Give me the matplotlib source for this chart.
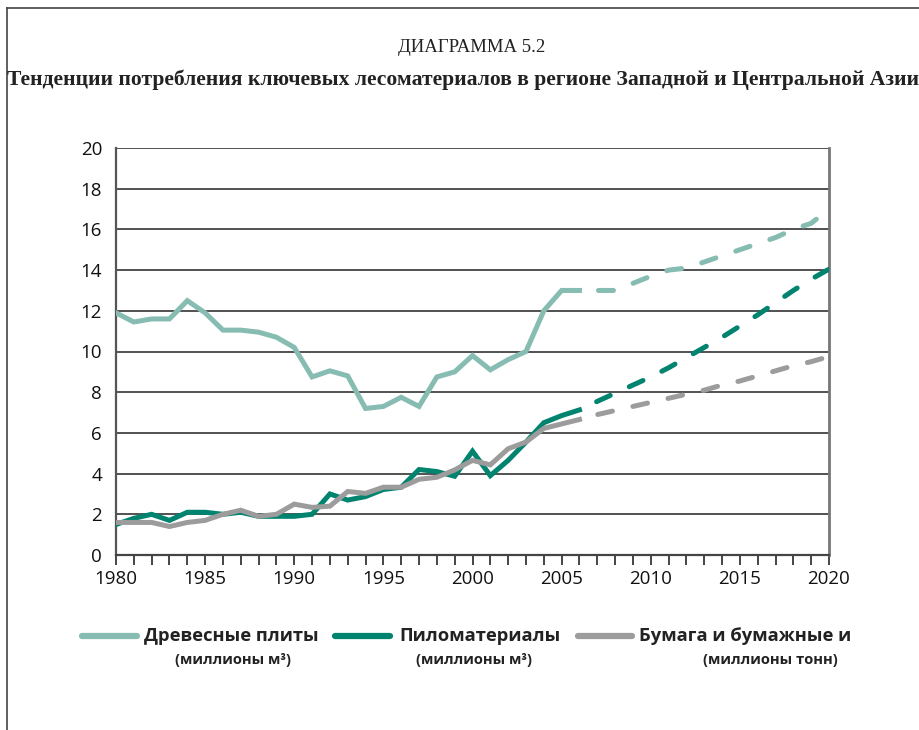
import matplotlib
matplotlib.use("Agg")
import matplotlib.pyplot as plt
from matplotlib.lines import Line2D

# Historical data, 1980-2006
years_hist = list(range(1980, 2007))
panels_hist = [11.9, 11.45, 11.6, 11.6, 12.5, 11.9, 11.05, 11.05, 10.95, 10.7,
               10.2, 8.75, 9.05, 8.8, 7.2, 7.3, 7.75, 7.3, 8.75, 9.0,
               9.8, 9.1, 9.6, 10.0, 12.0, 13.0, 13.0]
sawn_hist = [1.5, 1.8, 2.0, 1.7, 2.1, 2.1, 2.0, 2.1, 1.9, 1.9,
             1.9, 2.0, 3.0, 2.7, 2.87, 3.22, 3.33, 4.2, 4.1, 3.87,
             5.1, 3.9, 4.65, 5.55, 6.5, 6.85, 7.13]
paper_hist = [1.6, 1.6, 1.6, 1.4, 1.6, 1.7, 2.0, 2.2, 1.9, 2.0,
              2.5, 2.34, 2.4, 3.12, 3.03, 3.33, 3.33, 3.72, 3.82, 4.18,
              4.65, 4.43, 5.22, 5.55, 6.22, 6.44, 6.66]

# Projections, 2006-2020
years_proj = list(range(2006, 2021))
panels_proj = [13.0, 13.0, 13.0, 13.35, 13.7, 14.0, 14.1, 14.4, 14.7, 15.0,
               15.3, 15.6, 16.0, 16.3, 17.0]
sawn_proj = [7.13, 7.55, 7.95, 8.35, 8.75, 9.2, 9.7, 10.2, 10.7, 11.25,
             11.8, 12.4, 13.0, 13.55, 14.05]
paper_proj = [6.66, 6.9, 7.1, 7.3, 7.5, 7.7, 7.9, 8.1, 8.35, 8.55,
              8.8, 9.05, 9.3, 9.5, 9.75]

series_names = ["Древесные плиты", "Пиломатериалы", "Бумага и бумажные и"]
series_units = ["(миллионы м³)", "(миллионы м³)", "(миллионы тонн)"]
colors = ["#86bcb1", "#00846f", "#9c9c9c"]

sans = ["Open Sans", "DejaVu Sans"]
serif = ["Liberation Serif", "DejaVu Serif"]

fig = plt.figure(figsize=(9.2, 7.3), dpi=100)
ax = fig.add_axes([116 / 920, 1 - 555 / 730, (829 - 116) / 920, (555 - 148) / 730])

lw = 3.6
hist = [panels_hist, sawn_hist, paper_hist]
proj = [panels_proj, sawn_proj, paper_proj]
for h, p, c in zip(hist, proj, colors):
    ax.plot(years_hist, h, color=c, lw=lw, solid_joinstyle="miter", zorder=3)
    ax.plot(years_proj, p, color=c, lw=lw, ls=(3.4, (3, 4.2)),
            dash_capstyle="round", zorder=3)

ax.set_xlim(1980, 2020)
ax.set_ylim(0, 20)
ax.set_yticks(range(0, 21, 2))
ax.set_xticks(range(1980, 2021, 5))
ax.set_xticks(range(1980, 2021), minor=True)
ax.grid(axis="y", color="#333333", lw=1.2)
ax.set_axisbelow(True)

ax.spines["top"].set_visible(False)
ax.spines["left"].set_color("#555555")
ax.spines["left"].set_linewidth(1.6)
ax.spines["bottom"].set_color("#444444")
ax.spines["bottom"].set_linewidth(1.6)
ax.spines["right"].set_color("#777777")
ax.spines["right"].set_linewidth(2.0)

ax.tick_params(axis="y", length=0, pad=10)
ax.tick_params(axis="x", which="both", direction="out", length=7,
               width=1.4, color="#444444", pad=4)
for lab in ax.get_xticklabels() + ax.get_yticklabels():
    lab.set_family(sans)
    lab.set_fontsize(13.5)
    lab.set_color("#111111")

# titles
fig.text(472 / 920, 1 - 48 / 730, "ДИАГРАММА 5.2", family=serif, fontsize=13.5,
         ha="center", va="center", color="#222222")
fig.text(463 / 920, 1 - 80 / 730,
         "Тенденции потребления ключевых лесоматериалов в регионе Западной и Центральной Азии",
         family=serif, fontsize=15.6, fontweight="bold", ha="center", va="center",
         color="#222222")

# page frame
fig.add_artist(Line2D([7.5 / 920, 7.5 / 920], [0, 1 - 8 / 730], color="#444444", lw=1.2))
fig.add_artist(Line2D([7.5 / 920, 1], [1 - 8 / 730, 1 - 8 / 730], color="#444444", lw=1.2))

# legend
handle_x = [(82, 137), (335, 390), (578, 632)]
text_x = [144, 399, 639]
unit_x = [233, 474, 770]
for (x0, x1), tx, ux, name, unit, c in zip(handle_x, text_x, unit_x,
                                             series_names, series_units, colors):
    fig.add_artist(Line2D([x0 / 920, x1 / 920], [1 - 636 / 730] * 2, color=c,
                          lw=4.5, solid_capstyle="round"))
    fig.text(tx / 920, 1 - 636 / 730, name, family=sans, fontsize=13.2,
             fontweight="bold", ha="left", va="center", color="#222222")
    fig.text(ux / 920, 1 - 660 / 730, unit, family=sans, fontsize=10.6,
             fontweight="bold", ha="center", va="center", color="#222222")

fig.savefig("out.png", dpi=100, facecolor="white")
